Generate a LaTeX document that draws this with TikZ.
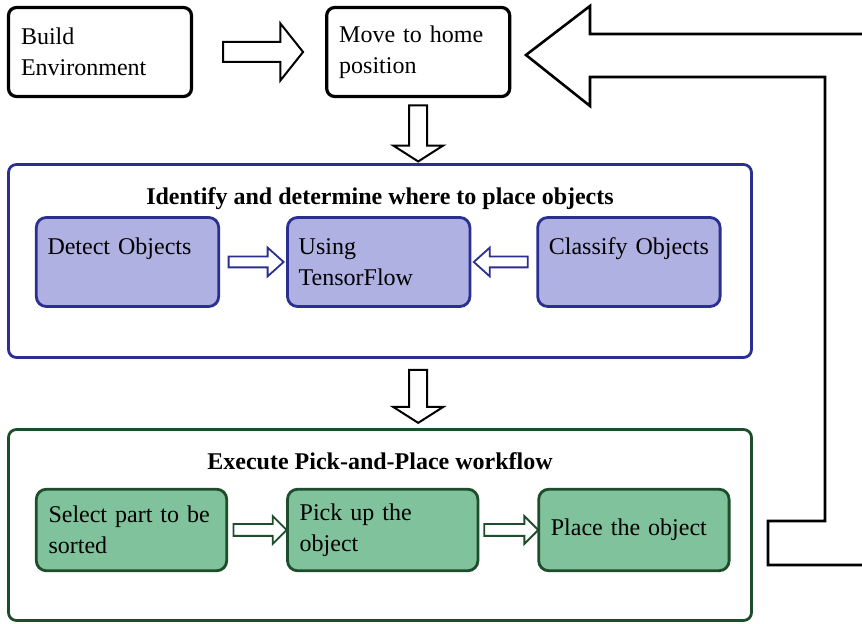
\documentclass[tikz,border=0pt]{standalone}
\usepackage{fontspec}
\setmainfont{Liberation Serif}
\usetikzlibrary{positioning, shapes.arrows, calc}
\definecolor{sortnavy}{HTML}{2B2F8F}
\definecolor{sortlilac}{HTML}{AEB1E2}
\definecolor{sortforest}{HTML}{1E4D2B}
\definecolor{sortmint}{HTML}{7FC29B}
\tikzset{
  every node/.append style={font=\fontsize{12}{15.5}\selectfont},
  box/.style={rectangle, rounded corners=4pt, draw=black, line width=1.6pt, fill=white,
              align=left, text width=79pt, inner xsep=6.25pt, minimum height=44.5pt},
  boxb/.style={box, rounded corners=5pt, draw=sortnavy, fill=sortlilac, line width=1.4pt,
               text width=80pt, inner xsep=5.6pt},
  boxg/.style={box, rounded corners=5pt, draw=sortforest, fill=sortmint, line width=1.4pt,
               text width=83pt, inner xsep=6.1pt, minimum height=40.75pt},
  stage/.style={rectangle, rounded corners=4pt, draw=sortnavy, line width=1.4pt,
                minimum width=371.5pt, minimum height=96.5pt},
  stageg/.style={stage, draw=sortforest, minimum height=95.5pt},
  grouptitle/.style={font=\fontsize{12}{15.5}\selectfont\bfseries},
  fat/.style={single arrow, draw=black, fill=white, line width=1pt, line join=miter,
              inner sep=0pt, minimum width=0pt},
  fatr/.style={fat, inner ysep=4.5pt, single arrow head extend=9.25pt, single arrow tip angle=103},
  fatd/.style={fat, shape border rotate=270, inner xsep=4pt, single arrow head extend=8pt,
               single arrow tip angle=115},
  thinb/.style={fat, draw=sortnavy, line width=0.9pt, inner ysep=2.25pt,
                single arrow head extend=4.5pt, single arrow tip angle=84},
  thing/.style={fat, draw=sortforest, line width=0.9pt, inner ysep=2.5pt,
                single arrow head extend=4pt, single arrow tip angle=90},
  returnline/.style={draw=black, line width=1.3pt, line join=miter},
}
\begin{document}
\begin{tikzpicture}[x=0.5pt, y=-0.5pt]
  \useasboundingbox (0,0) rectangle (862,624);
  % top row
  \node[box] (build) at (100,52) {Build\\Environment};
  \node[box, right=66pt of build] (home) {Move to home\\position};
  \node[fatr, minimum height=40pt] (buildarrow) at ($(build.east)!0.5!(home.west)$) {};
  % identify stage
  \node[stage] (identify) at (380,261) {};
  \node[grouptitle, below=8.5pt of identify.north] (identifytitle) {Identify and determine where to place objects};
  \node[boxb] (detect) at (127.5,262) {Detect Objects\\\mbox{}};
  \node[boxb, right=33pt of detect] (tensor) {Using\\TensorFlow};
  \node[boxb, right=32.5pt of tensor] (classify) {Classify Objects\\\mbox{}};
  \node[thinb, minimum height=27.5pt] (detectarrow) at ($(detect.east)!0.5!(tensor.west)$) {};
  \node[thinb, shape border rotate=180, minimum height=27pt] (classifyarrow) at ($(classify.west)!0.5!(tensor.east)$) {};
  \node[fatd, minimum height=28pt] (homearrow) at ($(home.south)!0.5!(home.south |- identify.north)$) {};
  % execute stage
  \node[stageg] (execute) at (380,525) {};
  \node[grouptitle, below=8.5pt of execute.north] (executetitle) {Execute Pick-and-Place workflow};
  \node[boxg] (select) at (131.5,530) {Select part to be\\sorted};
  \node[boxg, right=29pt of select] (pick) {Pick up the\\object};
  \node[boxg, right=29pt of pick] (place) {Place the object};
  \node[thing, minimum height=26.5pt] (selectarrow) at ($(select.east)!0.5!(pick.west)$) {};
  \node[thing, minimum height=27pt] (pickarrow) at ($(pick.east)!0.5!(place.west)$) {};
  \node[fatd, minimum height=26.5pt] (identifyarrow) at ($(home.south |- identify.south)!0.5!(home.south |- execute.north)$) {};
  % return to home
  \coordinate (tip) at (526,55);
  \draw[returnline] (862,34) -- (590,34) -- (590,6) -- (tip) -- (590,106) -- (590,77)
    -- (825,77) -- (825,521) -- (768,521) -- (768,565) -- (862,565);
\end{tikzpicture}
\end{document}
